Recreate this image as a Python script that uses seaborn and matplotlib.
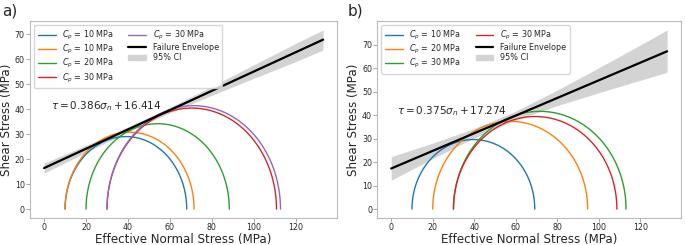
import numpy as np
import matplotlib
matplotlib.use("Agg")
import matplotlib.pyplot as plt
import seaborn as sns

sns.set_style("ticks")
plt.rcParams['font.family'] = ['DejaVu Sans']
plt.rcParams['mathtext.fontset'] = 'dejavusans'

# ---- Panel a data ----
a_labels = [r'$C_p$ = 10 MPa', r'$C_p$ = 10 MPa', r'$C_p$ = 20 MPa', r'$C_p$ = 30 MPa', r'$C_p$ = 30 MPa']
a_sigma3 = [10, 10, 20, 30, 30]
a_sigma1 = [68, 71.5, 88.3, 110.8, 112.7]
a_colors = ['#1f77b4', '#ff7f0e', '#2ca02c', '#d62728', '#9467bd']
a_slope, a_intercept = 0.386, 16.414
a_ci_x = [0, 20, 40, 60, 80, 100, 120, 133]
a_ci_low = [14.4, 22.7, 30.9, 38.5, 45.5, 52.3, 59.0, 63.6]
a_ci_high = [18.4, 25.5, 32.9, 40.7, 49.1, 57.7, 66.3, 71.6]

# ---- Panel b data ----
b_labels = [r'$C_p$ = 10 MPa', r'$C_p$ = 20 MPa', r'$C_p$ = 30 MPa', r'$C_p$ = 30 MPa']
b_sigma3 = [10, 20, 30, 30]
b_sigma1 = [69.2, 94.7, 113.2, 108.8]
b_colors = ['#1f77b4', '#ff7f0e', '#2ca02c', '#d62728']
b_slope, b_intercept = 0.375, 17.274
b_ci_x = [0, 20, 40, 60, 80, 100, 120, 133]
b_ci_low = [12.3, 21.5, 30.3, 37.9, 44.0, 49.5, 54.8, 58.2]
b_ci_high = [22.3, 28.1, 34.3, 41.7, 50.6, 60.1, 69.8, 76.2]

env_x = [0, 133]


def draw(ax, labels, s3, s1, colors, slope, intercept, ci_x, ci_lo, ci_hi, eq_pos):
    ax.fill_between(ci_x, ci_lo, ci_hi, color='lightgray', linewidth=0, zorder=1)
    theta = np.linspace(0, np.pi, 400)
    for lab, lo, hi, c in zip(labels, s3, s1, colors):
        cen = (lo + hi) / 2
        r = (hi - lo) / 2
        sns.lineplot(x=cen - r * np.cos(theta), y=r * np.sin(theta), sort=False,
                     estimator=None, color=c, linewidth=1.0, label=lab, ax=ax, zorder=2)
    ex = np.array(env_x)
    sns.lineplot(x=ex, y=slope * ex + intercept, color='black', linewidth=1.6,
                 label='Failure Envelope', ax=ax, zorder=3)
    ax.fill_between([], [], [], color='lightgray', label='95% CI')
    ax.text(eq_pos[0], eq_pos[1], r'$\tau = %.3f\sigma_n + %.3f$' % (slope, intercept),
            fontsize=7.5, va='center', ha='left')
    ax.set_xlabel('Effective Normal Stress (MPa)', fontsize=8.6, labelpad=0.3)
    ax.set_ylabel('Shear Stress (MPa)', fontsize=8.6, labelpad=1.2)
    ax.set_xticks([0, 20, 40, 60, 80, 100, 120])
    ax.set_yticks([0, 10, 20, 30, 40, 50, 60, 70])
    ax.tick_params(labelsize=5.7, length=2.7, width=0.6, color='#999999', pad=1.2)
    for sp in ax.spines.values():
        sp.set_color('#bbbbbb')
        sp.set_linewidth(0.8)
    ax.margins(x=0.05, y=0.05)
    ax.legend(loc='upper left', ncol=2, fontsize=5.8, frameon=True, handlelength=2.2,
              columnspacing=1.8, labelspacing=0.15, borderpad=0.45)


fig = plt.figure(figsize=(6.85, 2.45), dpi=100)
ax1 = fig.add_axes([0.044, 0.11, 0.448, 0.804])
ax2 = fig.add_axes([0.551, 0.11, 0.443, 0.804])

draw(ax1, a_labels, a_sigma3, a_sigma1, a_colors, a_slope, a_intercept,
     a_ci_x, a_ci_low, a_ci_high, (3.3, 41.3))
draw(ax2, b_labels, b_sigma3, b_sigma1, b_colors, b_slope, b_intercept,
     b_ci_x, b_ci_low, b_ci_high, (2.8, 41.5))

fig.text(0.003, 0.955, 'a)', fontsize=11, va='center', ha='left')
fig.text(0.508, 0.955, 'b)', fontsize=11, va='center', ha='left')

fig.savefig('out.png', dpi=100)
